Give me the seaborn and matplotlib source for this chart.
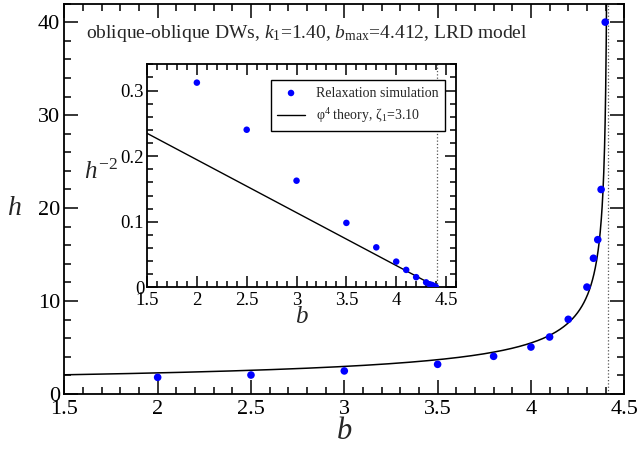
import numpy as np
import pandas as pd
import matplotlib
matplotlib.use("Agg")
import matplotlib.pyplot as plt
from matplotlib.ticker import MultipleLocator, FuncFormatter
import seaborn as sns

# ---- data ----
b_sim = [2.0, 2.5, 3.0, 3.5, 3.8, 4.0, 4.1, 4.2, 4.3, 4.335, 4.358, 4.376, 4.398]
h_sim = [1.79, 2.04, 2.48, 3.19, 4.05, 5.05, 6.13, 8.03, 11.5, 14.6, 16.6, 22.0, 40.0]
b_max = 4.412
zeta1 = 3.10
k1 = 1.40

sns.set_theme(style="ticks")
plt.rcParams["font.family"] = ["Liberation Serif", "DejaVu Serif"]
plt.rcParams["mathtext.fontset"] = "custom"
plt.rcParams["mathtext.rm"] = "Liberation Serif"
plt.rcParams["mathtext.it"] = "Liberation Serif:italic"
plt.rcParams["axes.edgecolor"] = "black"
plt.rcParams["axes.linewidth"] = 1.3

df = pd.DataFrame({"b": b_sim, "h": h_sim})
df["hm2"] = 1.0 / df["h"] ** 2

bt = np.linspace(1.5, b_max - 1e-6, 2000)
theory = pd.DataFrame({"b": bt})
theory["hm2"] = (b_max - theory["b"]) / (4 * zeta1)
theory["h"] = 1.0 / np.sqrt(theory["hm2"])

fig = plt.figure(figsize=(6.37, 4.54), dpi=100)
ax = fig.add_axes([0.101, 0.1322, 0.879, 0.860])

sns.lineplot(data=theory, x="b", y="h", ax=ax, color="black", lw=1.1, sort=False)
sns.scatterplot(data=df, x="b", y="h", ax=ax, color="#0000ff", s=30, edgecolor="none", zorder=5)
ax.axvline(b_max, color="#555555", ls=":", lw=0.9)
ax.set_xlim(1.5, 4.5)
ax.set_ylim(0, 42)

fmt = FuncFormatter(lambda v, p: f"{v:g}")

def style_axes(a, xmaj, xmin, ymaj, ymin, lsize, majl, minl, xpad, ypad):
    a.xaxis.set_major_locator(MultipleLocator(xmaj))
    a.xaxis.set_minor_locator(MultipleLocator(xmin))
    a.yaxis.set_major_locator(MultipleLocator(ymaj))
    a.yaxis.set_minor_locator(MultipleLocator(ymin))
    a.tick_params(which="both", direction="in", top=True, right=True, colors="black",
                  labelsize=lsize, width=1.1)
    a.tick_params(which="major", length=majl)
    a.tick_params(which="minor", length=minl)
    a.tick_params(axis="x", pad=xpad)
    a.tick_params(axis="y", pad=ypad)
    a.xaxis.set_major_formatter(fmt)
    a.yaxis.set_major_formatter(fmt)
    for s in a.spines.values():
        s.set_visible(True)
        s.set_color("black")

style_axes(ax, 0.5, 0.1, 10, 2, 16, 10, 5, 4, 3)
ax.set_xlabel("$b$", fontsize=22, va="center")
ax.xaxis.set_label_coords(0.5, -0.097)
ax.set_ylabel("$h$", fontsize=20, rotation=0, va="center", ha="center")
ax.yaxis.set_label_coords(-0.089, 0.475)
ax.text(0.039, 0.912, r"oblique-oblique DWs, $k_1$=1.40, $b_{\mathrm{max}}$=4.412, LRD model",
        transform=ax.transAxes, fontsize=14, va="baseline", ha="left")

# ---- inset ----
ins = fig.add_axes([0.2308, 0.3671, 0.4851, 0.4912])
sns.scatterplot(data=df, x="b", y="hm2", ax=ins, color="#0000ff", s=22, edgecolor="none",
                zorder=5, label="Relaxation simulation")
sns.lineplot(data=theory, x="b", y="hm2", ax=ins, color="black", lw=1.0, sort=False,
             label=r"$\mathrm{\varphi}^4$ theory, $\mathrm{\zeta}_1$=3.10")
ins.axvline(b_max, color="#555555", ls=":", lw=0.9)
ins.set_xlim(1.5, 4.6)
ins.set_ylim(0, 0.34)
style_axes(ins, 0.5, 0.1, 0.1, 0.02, 13.5, 8, 4, 3, 2)
ins.set_xlabel("$b$", fontsize=18, va="center")
ins.xaxis.set_label_coords(0.5, -0.135)
ins.set_ylabel("$h^{-2}$", fontsize=18, rotation=0, va="center", ha="center")
ins.yaxis.set_label_coords(-0.15, 0.52)
leg = ins.legend(loc="upper right", bbox_to_anchor=(0.964, 0.928), borderaxespad=0,
                 fontsize=10, frameon=True, fancybox=False, edgecolor="black", framealpha=1,
                 handlelength=2.0, borderpad=0.45, labelspacing=0.45)
leg.get_frame().set_linewidth(1.0)

fig.savefig("out.png", dpi=100)
